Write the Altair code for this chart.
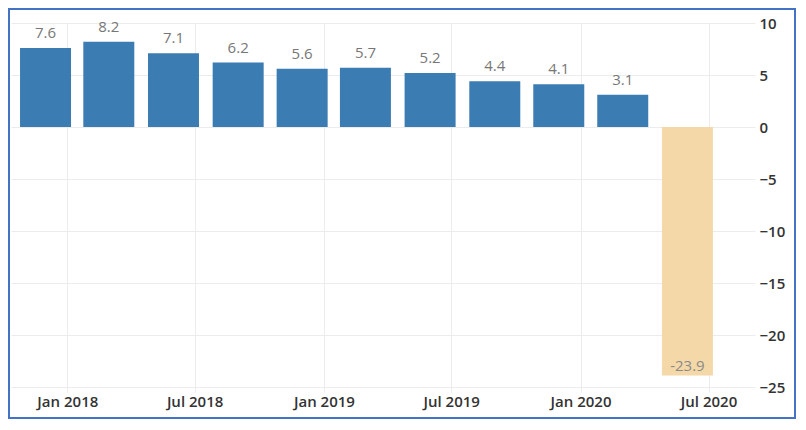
import altair as alt
import pandas as pd

dates = ["2017-12-01", "2018-03-01", "2018-06-01", "2018-09-01", "2018-12-01",
         "2019-03-01", "2019-06-01", "2019-09-01", "2019-12-01", "2020-03-01",
         "2020-06-01"]
values = [7.6, 8.2, 7.1, 6.2, 5.6, 5.7, 5.2, 4.4, 4.1, 3.1, -23.9]
y_ticks = [10, 5, 0, -5, -10, -15, -20, -25]

df = pd.DataFrame({"date": dates, "value": values,
                   "label": [f"{v:.1f}" for v in values]})

AXFONT = "Open Sans"
FONT = "Open Sans"
BLUE = "#3b7db3"
BEIGE = "#f4d8a8"
GRID = "#ececec"

x_enc = alt.X(
    "date:T",
    title=None,
    scale=alt.Scale(type="utc",
                    domain=[alt.DateTime(year=2017, month=10, date=20, utc=True),
                            alt.DateTime(year=2020, month=8, date=29, utc=True)]),
    axis=alt.Axis(format="%b %Y",
                  tickCount=alt.TimeIntervalStep(interval="month", step=6),
                  grid=True, gridColor=GRID, domain=False,
                  ticks=True, tickSize=5, tickColor=GRID,
                  labelPadding=2, labelFont=AXFONT, labelFontSize=15,
                  labelFontWeight=600, labelColor="#333333"),
)
y_enc = alt.Y(
    "value:Q",
    title=None,
    scale=alt.Scale(domain=[-25, 10], nice=False),
    axis=alt.Axis(orient="right", values=y_ticks, grid=True, gridColor=GRID,
                  domain=False, ticks=False, labelPadding=4,
                  labelFont=AXFONT, labelFontSize=15, labelFontWeight=600,
                  labelColor="#333333"),
)

base = alt.Chart(df)

bars = base.mark_bar(size=51).encode(
    x=x_enc, y=y_enc,
    color=alt.condition(alt.datum.value < 0, alt.value(BEIGE), alt.value(BLUE)),
)

pos_text = base.transform_filter(alt.datum.value >= 0).mark_text(
    baseline="alphabetic", dy=-10, font=FONT, fontSize=15, color="#777777"
).encode(x="date:T", y="value:Q", text="label:N")

neg_text = base.transform_filter(alt.datum.value < 0).mark_text(
    baseline="alphabetic", dy=-5, font=FONT, fontSize=15, color="#8a8a8a"
).encode(x="date:T", y="value:Q", text="label:N")

frame = alt.Chart(pd.DataFrame({"a": [0]})).mark_rect(
    filled=False, stroke="#4472c4", strokeWidth=2
).encode(x=alt.value(-2), x2=alt.value(784), y=alt.value(-14), y2=alt.value(395))

chart = alt.layer(bars, pos_text, neg_text, frame).properties(
    width=744, height=364,
    autosize=alt.AutoSizeParams(type="none"),
    padding={"left": 3, "top": 15, "right": 41, "bottom": 33},
).configure_view(stroke=None)

chart.save("out.html", embed_options={"renderer": "svg", "actions": False})
